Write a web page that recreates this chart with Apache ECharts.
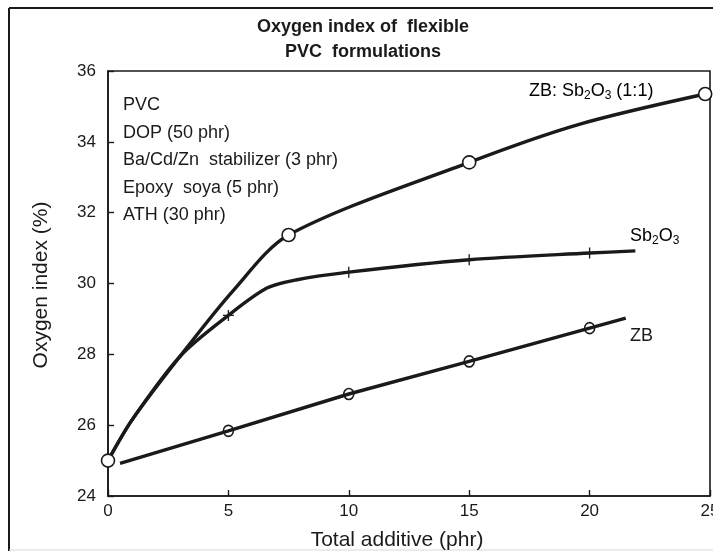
<!DOCTYPE html>
<html>
<head>
<meta charset="utf-8">
<script src="https://cdn.jsdelivr.net/npm/echarts@6/dist/echarts.min.js"></script>
<style>
html,body{margin:0;padding:0;background:#fff;}
#chart{width:713px;height:551px;}
</style>
</head>
<body>
<div id="chart"></div>
<script>
// ---- data ----
const titleLines = ['Oxygen index of  flexible', 'PVC  formulations'];
const xAxisTitle = 'Total additive (phr)';
const yAxisTitle = 'Oxygen index (%)';
const noteLines = ['PVC', 'DOP (50 phr)', 'Ba/Cd/Zn  stabilizer (3 phr)', 'Epoxy  soya (5 phr)', 'ATH (30 phr)'];

// ZB : Sb2O3 (1:1) curve and markers
const ratioCurveX = [0, 1, 3, 5.2, 7.5, 15, 19.6, 24.8];
const ratioCurveY = [25, 26.15, 27.95, 29.8, 31.37, 33.42, 34.5, 35.35];
const ratioMarkX = [0, 7.5, 15, 24.8];
const ratioMarkY = [25, 31.37, 33.42, 35.35];

// Sb2O3 curve and markers
const sbCurveX = [0, 1, 3, 5, 6.6, 7.8, 10, 15, 20, 21.9];
const sbCurveY = [25, 26.15, 27.95, 29.1, 29.87, 30.1, 30.32, 30.67, 30.86, 30.92];
const sbMarkX = [5, 10, 15, 20];
const sbMarkY = [29.1, 30.32, 30.67, 30.86];

// ZB line and markers
const zbLineX = [0.5, 5, 10, 15, 20, 21.5];
const zbLineY = [24.92, 25.84, 26.88, 27.8, 28.74, 29.02];
const zbMarkX = [5, 10, 15, 20];
const zbMarkY = [25.84, 26.88, 27.8, 28.74];

const xMin = 0, xMax = 25, xStep = 5;
const yMin = 24, yMax = 36, yStep = 2;

const pairs = (xs, ys) => xs.map((x, i) => [x, ys[i]]);
const FONT = '"Liberation Sans", Arial, Helvetica, sans-serif';
const INK = '#1a1a1a';

const chart = echarts.init(document.getElementById('chart'), null, {renderer: 'canvas'});

const plusPath = 'path://M4.4,0h1.2v10h-1.2z M0,4.4h10v1.2h-10z';

const subRich = {
  n: {fontSize: 18, fontFamily: FONT, color: INK, lineHeight: 22},
  s: {fontSize: 12, fontFamily: FONT, color: INK, lineHeight: 10, verticalAlign: 'bottom'}
};

chart.setOption({
  animation: false,
  backgroundColor: '#fff',
  grid: {left: 108, right: 3, top: 71, bottom: 55, show: true, borderColor: INK, borderWidth: 1.6,
         backgroundColor: 'transparent', containLabel: false, outerBoundsMode: 'none'},
  xAxis: {
    type: 'value', min: xMin, max: xMax, interval: xStep,
    axisLine: {show: true, lineStyle: {color: INK, width: 1.6}},
    axisTick: {show: true, inside: true, length: 6, lineStyle: {color: INK, width: 1.4}},
    axisLabel: {fontSize: 17, fontFamily: FONT, color: INK, margin: 7, hideOverlap: false},
    splitLine: {show: false}
  },
  yAxis: {
    type: 'value', min: yMin, max: yMax, interval: yStep,
    axisLine: {show: true, lineStyle: {color: INK, width: 1.6}},
    axisTick: {show: true, inside: true, length: 6, lineStyle: {color: INK, width: 1.4}},
    axisLabel: {fontSize: 17, fontFamily: FONT, color: INK, margin: 12},
    splitLine: {show: false}
  },
  series: [
    {type: 'line', data: pairs(ratioCurveX, ratioCurveY), showSymbol: false, symbol: 'none',
     smooth: 0.3, lineStyle: {color: INK, width: 3.4}, z: 2},
    {type: 'line', data: pairs(sbCurveX, sbCurveY), showSymbol: false, symbol: 'none',
     smooth: 0.3, lineStyle: {color: INK, width: 3.4}, z: 2},
    {type: 'line', data: pairs(zbLineX, zbLineY), showSymbol: false, symbol: 'none',
     lineStyle: {color: INK, width: 3.4}, z: 2},
    {type: 'scatter', data: pairs(sbMarkX, sbMarkY), symbol: plusPath, symbolSize: 11,
     itemStyle: {color: INK, opacity: 1}, z: 3},
    {type: 'scatter', data: pairs(zbMarkX, zbMarkY), symbol: 'circle', symbolSize: [10, 11],
     itemStyle: {color: 'rgba(0,0,0,0)', borderColor: INK, borderWidth: 1.6, opacity: 1}, z: 3},
    {type: 'scatter', data: pairs(ratioMarkX, ratioMarkY), symbol: 'circle', symbolSize: 13,
     itemStyle: {color: '#fff', borderColor: INK, borderWidth: 1.6, opacity: 1}, z: 4}
  ],
  graphic: [
    // outer figure frame (top, left dark; bottom faint)
    {type: 'line', shape: {x1: 9, y1: 8, x2: 713, y2: 8}, style: {stroke: INK, lineWidth: 2}},
    {type: 'line', shape: {x1: 9, y1: 8, x2: 9, y2: 551}, style: {stroke: INK, lineWidth: 2}},
    {type: 'line', shape: {x1: 9, y1: 550, x2: 713, y2: 550}, style: {stroke: '#d8d8d8', lineWidth: 1}},
    // title
    {type: 'text', x: 363, y: 27, style: {text: titleLines[0], font: 'bold 18px ' + FONT, fill: INK, textAlign: 'center', textVerticalAlign: 'middle'}},
    {type: 'text', x: 363, y: 52, style: {text: titleLines[1], font: 'bold 18px ' + FONT, fill: INK, textAlign: 'center', textVerticalAlign: 'middle'}},
    // axis titles
    {type: 'text', x: 397, y: 540, style: {text: xAxisTitle, font: '21px ' + FONT, fill: INK, textAlign: 'center', textVerticalAlign: 'middle'}},
    {type: 'text', x: 41, y: 285, rotation: Math.PI / 2, style: {text: yAxisTitle, font: '21px ' + FONT, fill: INK, textAlign: 'center', textVerticalAlign: 'middle'}},
    // formulation notes
    {type: 'text', x: 123, y: 91.5, style: {text: noteLines.join('\n'), font: '18px ' + FONT, fill: INK, lineHeight: 27.5, textAlign: 'left', textVerticalAlign: 'top'}},
    // series labels
    {type: 'text', x: 529, y: 91, style: {text: '{n|ZB: Sb}{s|2}{n|O}{s|3}{n| (1:1)}', rich: subRich, textAlign: 'left', textVerticalAlign: 'middle'}},
    {type: 'text', x: 630, y: 236, style: {text: '{n|Sb}{s|2}{n|O}{s|3}', rich: subRich, textAlign: 'left', textVerticalAlign: 'middle'}},
    {type: 'text', x: 630, y: 336, style: {text: 'ZB', font: '18px ' + FONT, fill: INK, textAlign: 'left', textVerticalAlign: 'middle'}}
  ]
});
</script>
</body>
</html>
